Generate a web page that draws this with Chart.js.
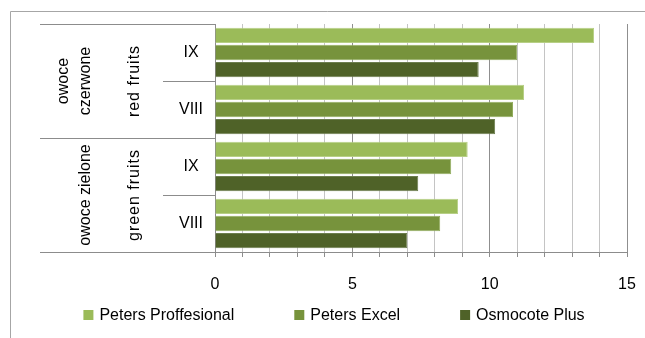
<!DOCTYPE html>
<html>
<head>
<meta charset="utf-8">
<script src="https://cdn.jsdelivr.net/npm/chart.js@4.4.0/dist/chart.umd.min.js"></script>
<style>
  html, body { margin: 0; padding: 0; background: #fff; overflow: hidden; }
  #wrap { position: relative; width: 645px; height: 338px; }
</style>
</head>
<body>
<div id="wrap"><canvas id="chart"></canvas></div>
<script>
// --- data ---
const months = ['IX', 'VIII', 'IX', 'VIII'];
const groupsPl = [['owoce', 'czerwone'], ['owoce zielone']];
const groupsEn = ['red fruits', 'green fruits'];
const seriesNames = ['Peters Proffesional', 'Peters Excel', 'Osmocote Plus'];
const petersProf = [13.8, 11.25, 9.2, 8.85];
const petersExcel = [11.0, 10.85, 8.6, 8.2];
const osmocote = [9.6, 10.2, 7.4, 7.0];
const xLabelsEvery = 5;

const colors = ['#9BBB59', '#77933C', '#4F6228'];
const edges = ['#b7cf86', '#93ad5f', '#6c7e4e'];
const FONT = '"Liberation Sans", Arial, sans-serif';
const LINE = '#8c8c8c';

Chart.defaults.font.family = FONT;
Chart.defaults.font.size = 16;
Chart.defaults.color = '#000';

// frame + two-level category axis on the left
const catAxis = {
    id: 'catAxis',
    beforeDraw(chart) {
        const ctx = chart.ctx;
        ctx.save();
        ctx.strokeStyle = '#a6a6a6';
        ctx.lineWidth = 1;
        ctx.beginPath();
        ctx.moveTo(10.5, chart.height);
        ctx.lineTo(10.5, 11.5);
        ctx.lineTo(chart.width, 11.5);
        ctx.stroke();
        ctx.restore();
    },
    afterDraw(chart) {
        const { ctx, chartArea: a, scales: { y } } = chart;
        const half = (y.getPixelForValue(1) - y.getPixelForValue(0)) / 2;
        const edge = i => Math.round(y.getPixelForValue(0) - half + i * 2 * half) + 0.5;
        const xGroup = 40, xSub = 163;

        ctx.save();
        ctx.strokeStyle = LINE;
        ctx.lineWidth = 1;
        ctx.beginPath();
        for (let i = 0; i <= months.length; i++) {
            ctx.moveTo(i % 2 === 0 ? xGroup : xSub, edge(i));
            ctx.lineTo(a.left, edge(i));
        }
        ctx.stroke();

        ctx.fillStyle = '#000';
        ctx.textAlign = 'center';
        ctx.textBaseline = 'middle';
        ctx.font = '16px ' + FONT;
        months.forEach((m, i) => {
            ctx.fillText(m, (xSub + a.left) / 2 + 2, y.getPixelForValue(i));
        });

        groupsEn.forEach((g, gi) => {
            const cy = y.getPixelForValue(gi * 2) + half;
            ctx.save();
            ctx.translate(135, cy);
            ctx.rotate(-Math.PI / 2);
            ctx.letterSpacing = '1px';
            ctx.fillText(g, 0, 0);
            ctx.restore();

            const lines = groupsPl[gi];
            lines.forEach((ln, li) => {
                ctx.save();
                ctx.translate(86 - (lines.length - 1 - li) * 22, cy);
                ctx.rotate(-Math.PI / 2);
                ctx.fillText(ln, 0, 0);
                ctx.restore();
            });
        });
        ctx.restore();
    }
};

// legend drawn under the axis, spaced like the original
const bottomLegend = {
    id: 'bottomLegend',
    afterDraw(chart) {
        const ctx = chart.ctx;
        const sets = chart.data.datasets;
        const box = 10, gapText = 6, gapItem = 60, cy = 315;
        ctx.save();
        ctx.font = '16px ' + FONT;
        ctx.textBaseline = 'middle';
        ctx.textAlign = 'left';
        const widths = sets.map(d => box + gapText + ctx.measureText(d.label).width);
        const total = widths.reduce((s, w) => s + w, 0) + gapItem * (sets.length - 1);
        let x = 334 - total / 2;
        sets.forEach((d, i) => {
            ctx.fillStyle = d.backgroundColor;
            ctx.fillRect(x, cy - box / 2, box, box);
            ctx.fillStyle = '#000';
            ctx.fillText(d.label, x + box + gapText, cy + 1);
            x += widths[i] + gapItem;
        });
        ctx.restore();
    }
};

new Chart(document.getElementById('chart'), {
    type: 'bar',
    data: {
        labels: months,
        datasets: [petersProf, petersExcel, osmocote].map((vals, i) => ({
            label: seriesNames[i],
            data: vals,
            backgroundColor: colors[i],
            borderColor: edges[i],
            borderWidth: 1,
            categoryPercentage: 0.9,
            barPercentage: 0.9
        }))
    },
    options: {
        indexAxis: 'y',
        responsive: true,
        maintainAspectRatio: false,
        animation: false,
        layout: { padding: { left: 215, top: 24, right: 18, bottom: 0 } },
        plugins: {
            legend: { display: false },
            tooltip: { enabled: false }
        },
        scales: {
            y: {
                ticks: { display: false },
                grid: { display: false, drawTicks: false },
                border: { color: LINE },
                afterFit: scale => { scale.width = 0; }
            },
            x: {
                min: 0,
                max: 15,
                ticks: {
                    stepSize: 1,
                    autoSkip: false,
                    maxRotation: 0,
                    padding: 18,
                    callback: v => (v % xLabelsEvery === 0 ? v : '')
                },
                grid: {
                    color: c => (c.tick && c.tick.value % xLabelsEvery === 0 ? '#8f8f8f' : '#c4c4c4'),
                    tickColor: LINE,
                    tickLength: 5
                },
                border: { color: LINE },
                afterFit: scale => {
                    scale.height = 86;
                    scale.paddingLeft = 0;
                    scale.paddingRight = 0;
                }
            }
        }
    },
    plugins: [catAxis, bottomLegend]
});
</script>
</body>
</html>
